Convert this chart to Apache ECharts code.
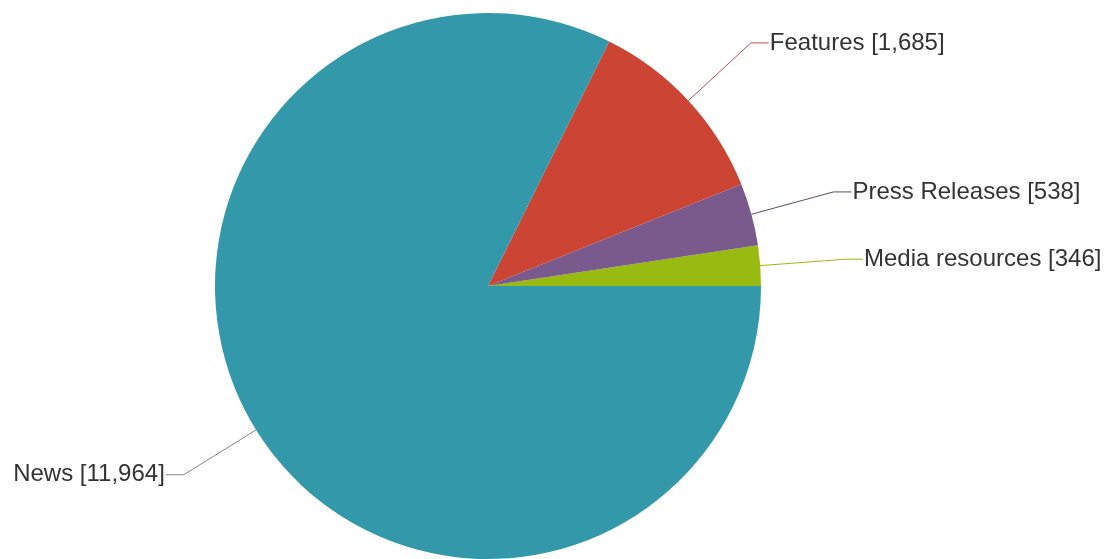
<!DOCTYPE html>
<html>
<head>
<meta charset="utf-8">
<script src="https://cdn.jsdelivr.net/npm/echarts@6/dist/echarts.min.js"></script>
<style>
  html, body { margin: 0; padding: 0; background: #ffffff; }
  #chart { width: 1118px; height: 559px; }
</style>
</head>
<body>
<div id="chart"></div>
<script>
// Content counts by type, listed counter-clockwise from 3 o'clock
const categories = ['Media resources', 'Press Releases', 'Features', 'News'];
const counts = [346, 538, 1685, 11964];
const sliceColors = ['#99bb11', '#7a5a8c', '#cc4433', '#3399aa'];
const leaderColors = ['#99bb11', '#5e4a6a', '#c24a5a', '#8a8592'];

const fmt = new Intl.NumberFormat('en-US');

const chart = echarts.init(document.getElementById('chart'), null, { renderer: 'canvas' });

chart.setOption({
  animation: false,
  backgroundColor: '#ffffff',
  series: [{
    type: 'pie',
    center: [488, 286],
    radius: 273,
    startAngle: 0,
    clockwise: false,
    avoidLabelOverlap: false,
    emphasis: { disabled: true },
    itemStyle: { borderWidth: 0 },
    label: {
      show: true,
      fontFamily: '"Liberation Sans", Arial, sans-serif',
      fontSize: 24,
      color: '#333333',
      distanceToLabelLine: 1,
      formatter: p => p.name + ' [' + fmt.format(p.value) + ']'
    },
    labelLine: {
      show: true,
      length: 85,
      length2: 18,
      smooth: false,
      lineStyle: { width: 1 }
    },
    data: categories.map((name, i) => ({
      name: name,
      value: counts[i],
      itemStyle: { color: sliceColors[i] },
      labelLine: { lineStyle: { color: leaderColors[i], width: 1 } }
    }))
  }]
});
</script>
</body>
</html>
